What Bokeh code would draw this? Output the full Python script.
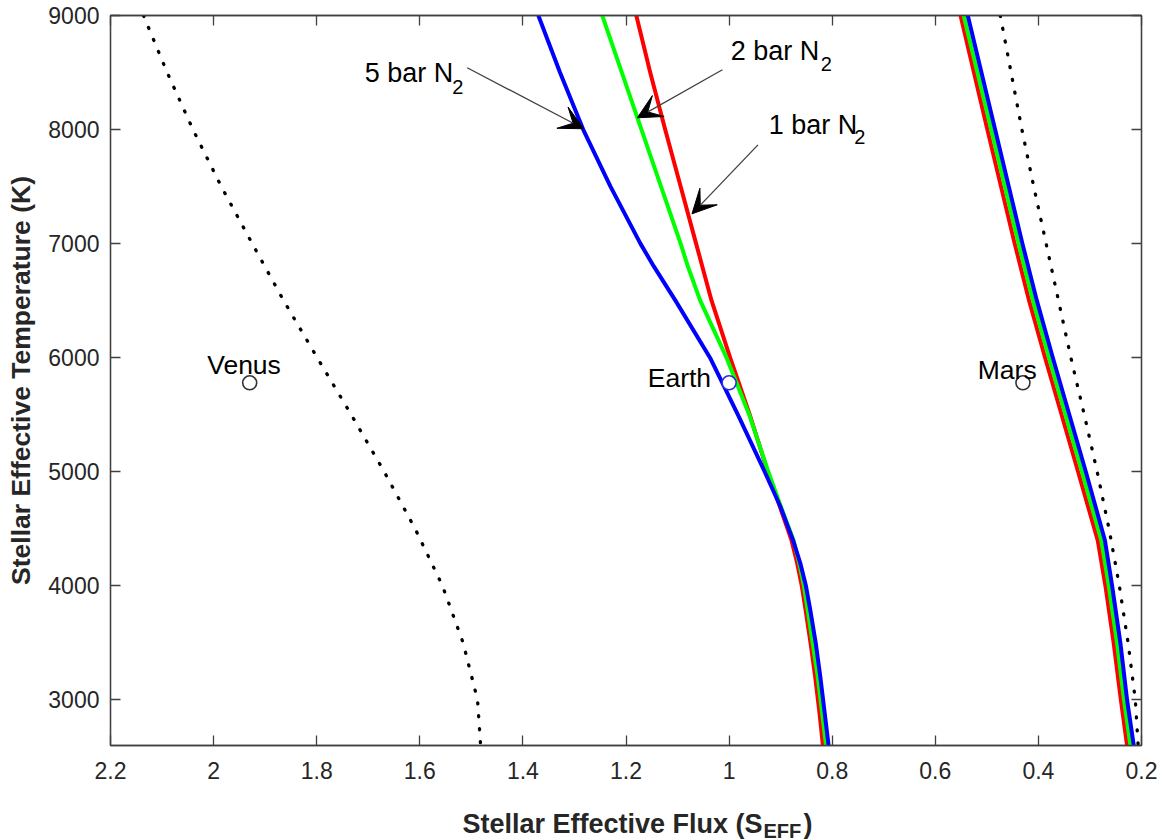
from bokeh.plotting import figure
from bokeh.layouts import column
from bokeh.models import Range1d, FixedTicker, LinearAxis, Arrow, VeeHead, ColumnDataSource
from bokeh.core.properties import value
from bokeh.embed import file_html
from bokeh.resources import INLINE

FONT = "Liberation Sans"
INK = "#262626"

# ---------------- data ----------------
# inner dotted limit (left)
teff_inner_dot = [9000, 8500, 8000, 7500, 7000, 6500, 6000, 5500, 5000, 4500, 4000, 3500, 3000, 2600]
seff_inner_dot = [2.136, 2.090, 2.040, 1.985, 1.925, 1.864, 1.799, 1.733, 1.669, 1.609, 1.556, 1.516, 1.488, 1.482]

# outer dotted limit (right)
teff_outer_dot = [9000, 8500, 8000, 7500, 7000, 6500, 6000, 5500, 5000, 4500, 4000, 3500, 3000, 2600]
seff_outer_dot = [0.474, 0.453, 0.432, 0.409, 0.385, 0.361, 0.337, 0.311, 0.286, 0.263, 0.243, 0.226, 0.212, 0.2065]

# inner edge curves for 1, 2, 5 bar N2
teff_inner = [9000, 8500, 8000, 7500, 7000, 6800, 6500, 6000, 5500, 5000, 4700, 4400, 4200, 4000, 3800, 3500, 3200, 2900, 2600]
seff_inner_1bar = [1.180, 1.153, 1.124, 1.094, 1.064, 1.052, 1.034, 0.998, 0.960, 0.925, 0.902, 0.879, 0.868, 0.859, 0.852, 0.842, 0.833, 0.825, 0.818]
seff_inner_2bar = [1.246, 1.208, 1.170, 1.132, 1.094, 1.080, 1.056, 1.005, 0.961, 0.924, 0.900, 0.875, 0.864, 0.855, 0.848, 0.838, 0.828, 0.820, 0.812]
seff_inner_5bar = [1.370, 1.328, 1.283, 1.230, 1.172, 1.146, 1.104, 1.037, 0.983, 0.931, 0.901, 0.876, 0.862, 0.851, 0.843, 0.832, 0.823, 0.815, 0.807]

# outer edge curves for 1, 2, 5 bar N2
teff_outer = [9000, 8000, 7000, 6500, 6000, 5500, 5000, 4400, 4000, 3500, 3000, 2600]
seff_outer_1bar = [0.551, 0.499, 0.446, 0.418, 0.387, 0.355, 0.323, 0.285, 0.270, 0.254, 0.240, 0.228]
seff_outer_2bar = [0.545, 0.4915, 0.4385, 0.4105, 0.3795, 0.3475, 0.3155, 0.278, 0.2635, 0.2475, 0.234, 0.2215]
seff_outer_5bar = [0.537, 0.484, 0.431, 0.403, 0.372, 0.340, 0.308, 0.271, 0.257, 0.241, 0.228, 0.215]

# planets
planet_names = ["Venus", "Earth", "Mars"]
planet_seff = [1.93, 1.00, 0.43]
planet_teff = [5780, 5780, 5780]
planet_edge = ["#333333", "#2a2ae0", "#333333"]

# planet labels
planet_label_x = [1.941, 1.035, 0.4605]
planet_label_y = [5940, 5824, 5894]
planet_label_align = ["center", "right", "center"]

# curve annotations
ann_text = ["5 bar N", "2 bar N", "1 bar N"]
ann_x = [1.707, 0.997, 0.923]
ann_y = [8498, 8693, 8044]
ann_sub = ["2", "2", "2"]
ann_sub_x = [1.537, 0.822, 0.757]
ann_sub_y = [8371, 8579, 7933]
arrow_tail_x = [1.508, 1.013, 0.944]
arrow_tail_y = [8542, 8524, 7866]
arrow_tip_x = [1.282, 1.178, 1.072]
arrow_tip_y = [8007, 8103, 7261]

# ticks
x_ticks = [2.2, 2.0, 1.8, 1.6, 1.4, 1.2, 1.0, 0.8, 0.6, 0.4, 0.2]
x_tick_labels = ["2.2", "2", "1.8", "1.6", "1.4", "1.2", "1", "0.8", "0.6", "0.4", "0.2"]
y_ticks = [3000, 4000, 5000, 6000, 7000, 8000, 9000]

# axis titles
x_title_parts = ["Stellar Effective Flux (S", "EFF", ")"]
y_title = "Stellar Effective Temperature (K)"

# ---------------- main figure ----------------
p = figure(width=1165, height=795,
           x_range=Range1d(2.2, 0.2), y_range=Range1d(2600, 9000),
           output_backend="svg", toolbar_location=None,
           min_border_left=110, min_border_right=24,
           min_border_top=15, min_border_bottom=50)
p.xgrid.visible = False
p.ygrid.visible = False
p.background_fill_color = "white"
p.border_fill_color = "white"
p.outline_line_color = "#404040"
p.outline_line_width = 1.3


def style_axis(ax, show_labels=True):
    ax.major_tick_in = 10
    ax.major_tick_out = 0
    ax.minor_tick_in = 0
    ax.minor_tick_out = 0
    ax.axis_line_color = "#404040"
    ax.axis_line_width = 1.3
    ax.major_tick_line_color = "#404040"
    ax.major_tick_line_width = 1.3
    ax.major_label_text_font = FONT
    if show_labels:
        ax.major_label_text_color = INK
        ax.major_label_text_font_size = "23px"
    else:
        ax.major_label_text_color = None
        ax.major_label_text_font_size = "0px"
        ax.major_label_standoff = 0


xa = p.xaxis[0]
xa.ticker = FixedTicker(ticks=x_ticks)
xa.major_label_overrides = {t: l for t, l in zip(x_ticks, x_tick_labels)}
style_axis(xa)
xa.major_label_standoff = 16

ya = p.yaxis[0]
ya.ticker = FixedTicker(ticks=y_ticks)
style_axis(ya)
ya.major_label_standoff = 11
ya.axis_label = y_title
ya.axis_label_text_font = FONT
ya.axis_label_text_font_size = "26.5px"
ya.axis_label_text_font_style = "bold"
ya.axis_label_text_color = INK
ya.axis_label_standoff = 9

top = LinearAxis(ticker=FixedTicker(ticks=x_ticks))
style_axis(top, False)
p.add_layout(top, "above")
right = LinearAxis(ticker=FixedTicker(ticks=y_ticks))
style_axis(right, False)
p.add_layout(right, "right")

# dotted limits
for xs, ys in [(seff_inner_dot, teff_inner_dot), (seff_outer_dot, teff_outer_dot)]:
    p.line(xs, ys, line_color="black", line_width=3.3, line_dash="1 12", line_cap="round")

# coloured curves
for teff, s1, s2, s5 in [(teff_inner, seff_inner_1bar, seff_inner_2bar, seff_inner_5bar),
                         (teff_outer, seff_outer_1bar, seff_outer_2bar, seff_outer_5bar)]:
    p.line(s1, teff, line_color="#ff0000", line_width=4, line_join="round")
    p.line(s2, teff, line_color="#00ff00", line_width=4, line_join="round")
    p.line(s5, teff, line_color="#0000ff", line_width=4, line_join="round")

# planets
p.scatter(planet_seff, planet_teff, marker="circle", size=14, fill_color="white",
          line_color=planet_edge, line_width=1.6)
p.text(planet_label_x, planet_label_y, text=planet_names, text_font=value(FONT),
       text_font_size="26.5px", text_color="black", text_align=planet_label_align,
       text_baseline="alphabetic")

# annotations
p.text(ann_x, ann_y, text=ann_text, text_font=value(FONT), text_font_size="27px",
       text_color="black", text_align="left", text_baseline="alphabetic")
p.text(ann_sub_x, ann_sub_y, text=ann_sub, text_font=value(FONT), text_font_size="20px",
       text_color="black", text_align="left", text_baseline="alphabetic")

arrow_src = ColumnDataSource(dict(xs=arrow_tail_x, ys=arrow_tail_y, xe=arrow_tip_x, ye=arrow_tip_y))
p.add_layout(Arrow(end=VeeHead(size=24, fill_color="black", line_color="black", line_width=1),
                   x_start="xs", y_start="ys", x_end="xe", y_end="ye", source=arrow_src,
                   line_color="#404040", line_width=1.3))

# ---------------- x-axis title strip (with subscript) ----------------
t = figure(width=1165, height=45, x_range=p.x_range, y_range=Range1d(45, 0),
           output_backend="svg", toolbar_location=None, title=None,
           x_axis_location=None, y_axis_location=None,
           min_border_left=110, min_border_right=24, min_border_top=0, min_border_bottom=0)
t.xgrid.visible = False
t.ygrid.visible = False
t.outline_line_color = None
t.background_fill_color = "white"
t.border_fill_color = "white"
t.text([0.9352], [28], text=[x_title_parts[0]], text_font=value(FONT), text_font_size="27px",
       text_font_style="bold", text_color=INK, text_align="right", text_baseline="alphabetic")
t.text([0.9333], [35], text=[x_title_parts[1]], text_font=value(FONT), text_font_size="20px",
       text_font_style="bold", text_color=INK, text_align="left", text_baseline="alphabetic")
t.text([0.8557], [28], text=[x_title_parts[2]], text_font=value(FONT), text_font_size="27px",
       text_font_style="bold", text_color=INK, text_align="left", text_baseline="alphabetic")

layout = column(p, t, spacing=0)
open("out.html", "w").write(file_html(layout, INLINE))
